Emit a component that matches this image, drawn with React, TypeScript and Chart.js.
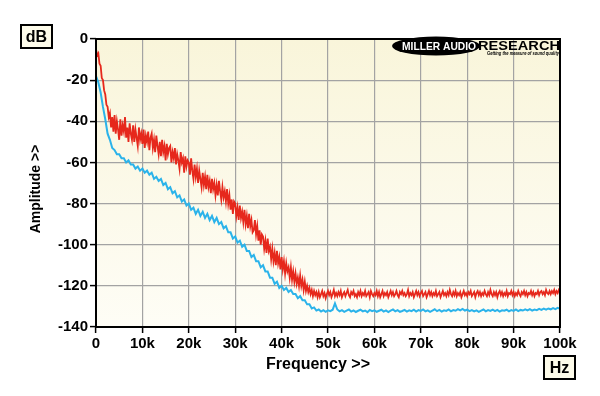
import React, { useEffect, useRef } from "react";
import { Chart, registerables } from "chart.js";

Chart.register(...registerables);

// Frequency sampling steps (Hz) of the two traces
const RED_STEP = 250;
const BLUE_STEP = 500;

const xTickValues = [0, 10000, 20000, 30000, 40000, 50000, 60000, 70000, 80000, 90000, 100000];
const xTickLabels = ["0", "10k", "20k", "30k", "40k", "50k", "60k", "70k", "80k", "90k", "100k"];
const yTickLabels = ["0", "-20", "-40", "-60", "-80", "-100", "-120", "-140"];

// Red trace (dB), one value every 250 Hz from 0 to 100 kHz (8 values = 2 kHz per row)
const redSeries = [
  -5, -8, -7, -12, -13, -19, -20, -25,
  -27, -32, -33, -38, -36, -43, -38, -45,
  -37, -46, -40, -44, -49, -39, -47, -42,
  -45, -38, -48, -43, -50, -41, -46, -49,
  -42, -50, -44, -48, -52, -43, -49, -46,
  -51, -44, -53, -47, -50, -45, -54, -48,
  -46, -53, -49, -55, -47, -52, -56, -50,
  -57, -49, -55, -52, -59, -51, -56, -53,
  -52, -60, -55, -58, -53, -61, -56, -59,
  -63, -55, -60, -58, -65, -57, -62, -59,
  -60, -66, -58, -64, -68, -61, -67, -63,
  -70, -64, -68, -72, -65, -71, -67, -73,
  -66, -72, -69, -75, -68, -73, -70, -76,
  -71, -76, -69, -74, -78, -72, -77, -74,
  -79, -73, -80, -76, -83, -78, -85, -79,
  -80, -86, -82, -88, -81, -87, -84, -89,
  -83, -90, -86, -92, -85, -91, -88, -94,
  -93, -88, -95, -91, -98, -93, -100, -95,
  -96, -102, -98, -104, -97, -103, -101, -107,
  -102, -108, -104, -110, -103, -109, -106, -112,
  -106, -112, -108, -114, -109, -113, -111, -116,
  -111, -117, -113, -118, -114, -119, -116, -120,
  -115, -120, -117, -122, -118, -122.5, -120, -123,
  -121, -124, -122, -125, -122.5, -124.5, -123, -125.5,
  -123, -125.5, -124, -122.5, -125, -123.5, -126, -124,
  -122.5, -124.5, -123, -125.5, -124, -122, -125, -123.5,
  -125, -123, -124.5, -122.5, -125.5, -124, -123, -125,
  -123.5, -122, -124.5, -125.5, -123, -124, -122.5, -125,
  -124, -125.5, -123, -124.5, -122.5, -125, -123.5, -124.5,
  -122.5, -125, -124, -123, -125.5, -122.5, -124, -125,
  -123.5, -124.5, -122.5, -125, -123, -125.5, -124, -122.5,
  -125, -123.5, -124.5, -123, -125.5, -124, -122.5, -124.5,
  -123, -125, -124, -122.5, -124.5, -125.5, -123, -124,
  -122.5, -124.5, -123.5, -125, -124, -122, -125, -123.5,
  -124.5, -123, -125.5, -124, -122.5, -124.5, -123, -125,
  -123.5, -122.5, -125, -124, -123, -125.5, -124, -122.5,
  -124.5, -123, -125, -123.5, -124.5, -122.5, -125, -124,
  -123, -125.5, -124, -122.5, -124.5, -123.5, -125, -123,
  -124.5, -122, -124, -125, -123, -124.5, -122.5, -125,
  -123.5, -124.5, -123, -125.5, -124, -122.5, -124.5, -123.5,
  -125, -123, -124, -122.5, -125, -124, -123, -125.5,
  -123.5, -122.5, -124.5, -123, -125, -123.5, -124.5, -122.5,
  -124, -125, -123, -124.5, -122, -124, -125, -123,
  -124.5, -123, -125.5, -123.5, -122.5, -124.5, -123, -125,
  -123.5, -124.5, -122.5, -125, -123.5, -124, -122.5, -124.5,
  -123, -125, -123.5, -124.5, -122.5, -124, -125, -123,
  -124, -122.5, -124.5, -123, -125, -123.5, -124, -122.5,
  -124.5, -123, -125, -123.5, -124, -122.5, -124.5, -123,
  -122.5, -124, -123, -124.5, -122, -123.5, -124, -122.5,
  -124, -122.5, -123.5, -122, -124, -122.5, -123.5, -122,
  -123,
];

// Blue trace (dB), one value every 500 Hz from 0 to 100 kHz
const blueSeries = [
  -18, -21, -26, -33, -39, -46, -49, -53, -54, -56,
  -56, -58, -58, -60, -59, -61, -61, -63, -62, -64,
  -63, -65, -64, -66, -65, -68, -67, -69, -68, -71,
  -70, -73, -72, -75, -74, -77, -76, -79, -78, -81,
  -80, -83, -82, -85, -83, -86, -84, -87, -85, -88,
  -86, -89, -87, -90, -89, -92, -91, -94, -94, -97,
  -96, -99, -98, -101, -100, -103, -103, -106, -105, -108,
  -108, -111, -110, -113, -113, -116, -116, -119, -118, -121,
  -120, -122, -121, -123, -122, -124, -124, -126, -125, -127,
  -127, -129, -129, -131, -130.5, -132,
  -131.5, -132.5, -131.8, -132.6, -131.9, -132.3, -131.6, -128.5, -131.5, -132.4,
  -131.8, -132.6, -132, -131.5, -132.5, -131.9, -132.7, -132.1, -131.6, -132.4,
  -132, -132.8, -131.7, -132.3, -131.9, -132.6, -132.1, -131.6, -132.5, -131.9,
  -132.7, -132, -131.5, -132.4, -131.8, -132.6, -132.2, -131.7, -132.5, -131.9,
  -132.3, -131.6, -132.5, -131.8, -132.2, -131.5, -132.4, -131.9, -132.6, -132,
  -131.4, -132.3, -131.7, -132.5, -131.9, -132.2, -131.5, -132.4, -131.8, -132.1,
  -131.3, -131.9, -131.2, -132, -131.6, -132.3, -131.8, -132.4, -131.9, -132.6,
  -132, -131.5, -132.4, -131.8, -132.2, -131.6, -132.3, -131.7, -132.5, -131.9,
  -132.1, -131.6, -132.4, -131.8, -132.2, -131.5, -132.3, -131.7, -132, -131.4,
  -131.9, -131.3, -132, -131.5, -131.8, -131.2, -131.7, -131.1, -131.6, -131,
  -131.4, -130.8, -131.3, -130.7, -131.1,
];

const FONT = '"Liberation Sans", Arial, sans-serif';

const decorPlugin = {
  id: "decor",
  beforeDraw(chart: any) {
    const { ctx, chartArea: a } = chart;
    ctx.save();
    const g = ctx.createLinearGradient(0, a.top, 0, a.bottom);
    g.addColorStop(0, "#f9f5da");
    g.addColorStop(1, "#fefdf6");
    ctx.fillStyle = g;
    ctx.fillRect(a.left, a.top, a.right - a.left, a.bottom - a.top);
    ctx.restore();
  },
  afterDatasetsDraw(chart: any) {
    const { ctx, chartArea: a } = chart;
    ctx.save();
    ctx.strokeStyle = "#000";
    ctx.lineWidth = 2;
    ctx.strokeRect(a.left, a.top, a.right - a.left, a.bottom - a.top);
    ctx.restore();
  },
  afterDraw(chart: any) {
    const { ctx } = chart;
    ctx.save();
    const box = (x: number, y: number, w: number, h: number, t: string) => {
      ctx.fillStyle = "#fdfbea";
      ctx.fillRect(x, y, w, h);
      ctx.strokeStyle = "#000";
      ctx.lineWidth = 2;
      ctx.strokeRect(x, y, w, h);
      ctx.fillStyle = "#000";
      ctx.font = `bold 16px ${FONT}`;
      ctx.textAlign = "center";
      ctx.textBaseline = "middle";
      ctx.fillText(t, x + w / 2, y + h / 2 + 1);
    };
    box(21, 25, 31, 23, "dB");
    box(544, 356, 31, 23, "Hz");

    ctx.fillStyle = "#000";
    ctx.font = `bold 16px ${FONT}`;
    ctx.textAlign = "center";
    ctx.textBaseline = "middle";
    ctx.fillText("Frequency >>", 318, 365);
    ctx.save();
    ctx.translate(36, 189);
    ctx.rotate(-Math.PI / 2);
    ctx.font = `bold 14px ${FONT}`;
    ctx.fillText("Amplitude >>", 0, 0);
    ctx.restore();

    const fit = (t: string, x: number, y: number, w: number, font: string, color: string) => {
      ctx.font = font;
      ctx.fillStyle = color;
      const m = ctx.measureText(t).width;
      ctx.save();
      ctx.translate(x, y);
      ctx.scale(w / m, 1);
      ctx.textAlign = "left";
      ctx.textBaseline = "alphabetic";
      ctx.fillText(t, 0, 0);
      ctx.restore();
    };
    ctx.fillStyle = "#000";
    ctx.beginPath();
    ctx.ellipse(436, 46, 44, 9.5, 0, 0, Math.PI * 2);
    ctx.fill();
    fit("MILLER AUDIO", 402, 50, 74, `bold 11.5px ${FONT}`, "#fff");
    fit("RESEARCH", 478, 49.5, 82, `bold 12px ${FONT}`, "#000");
    fit("Getting the measure of sound quality", 487, 54.5, 72, `italic bold 5.5px ${FONT}`, "#000");
    ctx.restore();
  },
};

export default function App() {
  const ref = useRef<HTMLCanvasElement | null>(null);
  useEffect(() => {
    const canvas = ref.current;
    if (!canvas) return;
    const redData = redSeries.map((v, i) => ({ x: i * RED_STEP, y: v }));
    const blueData = blueSeries.map((v, i) => ({ x: i * BLUE_STEP, y: v }));
    const chart = new Chart(canvas, {
      type: "line",
      data: {
        datasets: [
          {
            data: blueData,
            borderColor: "#2bb3ea",
            borderWidth: 2,
            pointRadius: 0,
            tension: 0,
          },
          {
            data: redData,
            borderColor: "#e6281c",
            borderWidth: 1.8,
            pointRadius: 0,
            tension: 0,
          },
        ],
      },
      options: {
        animation: false,
        responsive: false,
        maintainAspectRatio: false,
        layout: { padding: { top: 39, right: 40, left: 0, bottom: 0 } },
        plugins: {
          legend: { display: false },
          tooltip: { enabled: false },
        },
        scales: {
          x: {
            type: "linear",
            min: 0,
            max: 100000,
            afterBuildTicks: (scale: any) => {
              scale.ticks = xTickValues.map((v) => ({ value: v }));
            },
            afterFit: (scale: any) => {
              scale.height = 69;
            },
            ticks: {
              autoSkip: false,
              maxRotation: 0,
              padding: 2,
              color: "#000",
              font: { family: FONT, size: 15, weight: "bold" },
              callback: (_v: any, i: number) => xTickLabels[i],
            },
            grid: {
              color: "#a3a3a3",
              lineWidth: 1.2,
              tickLength: 6,
              tickColor: "#000",
              tickWidth: 1.5,
            },
            border: { display: false },
          },
          y: {
            type: "linear",
            min: -140,
            max: 0,
            ticks: {
              stepSize: 20,
              padding: 2,
              color: "#000",
              font: { family: FONT, size: 15, weight: "bold" },
              callback: (_v: any, i: number, ticks: any[]) => yTickLabels[ticks.length - 1 - i],
            },
            afterFit: (scale: any) => {
              scale.width = 96;
            },
            grid: {
              color: "#a3a3a3",
              lineWidth: 1.2,
              tickLength: 6,
              tickColor: "#000",
              tickWidth: 1.5,
            },
            border: { display: false },
          },
        },
      },
      plugins: [decorPlugin],
    } as any);
    return () => chart.destroy();
  }, []);
  return (
    <div style={{ position: "absolute", left: 0, top: 0, width: 600, height: 396, background: "#fff" }}>
      <canvas ref={ref} width={600} height={396} style={{ display: "block" }} />
    </div>
  );
}
